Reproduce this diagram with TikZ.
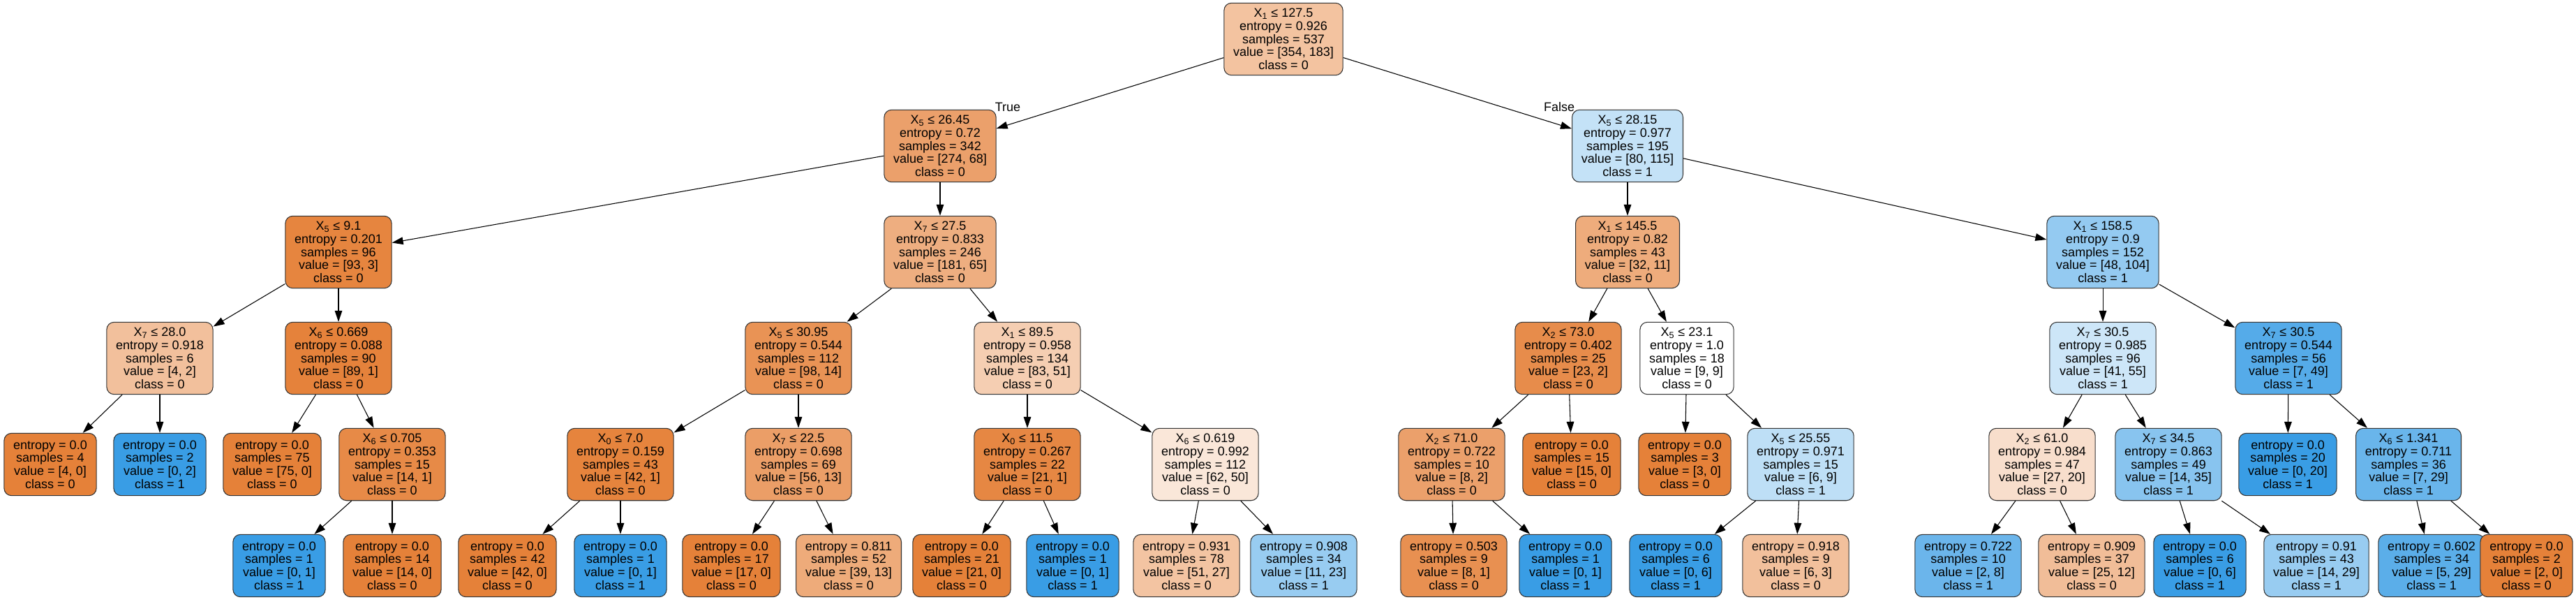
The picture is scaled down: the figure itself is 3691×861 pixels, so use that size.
\documentclass[tikz,border=0pt]{standalone}
\usepackage{fontspec}
\setmainfont{Liberation Sans}
\usetikzlibrary{arrows.meta}
\definecolor{cls0}{HTML}{E58139}
\definecolor{cls1}{HTML}{399DE5}
\begin{document}
  \begin{tikzpicture}[x=0.75pt, y=-0.75pt,
      tnode/.style={draw=black!80, line width=0.8pt, rounded corners=8pt,
        align=center, inner xsep=10pt, inner ysep=6pt,
        font=\fontsize{13.5}{14}\selectfont},
      leaf/.style={tnode, minimum height=67pt},
      link/.style={-{Triangle[length=12pt, width=8pt]}, line width=0.8pt},
      tag/.style={font=\fontsize{13.5}{14}\selectfont, inner sep=0pt}]
    \useasboundingbox (0,0) rectangle (3691,861);
    \node[tnode, fill=cls0!48] (n0) at (1839,56)
      {X\textsubscript{1} ≤ 127.5\\entropy = 0.926\\samples = 537\\value = [354, 183]\\class = 0};
    \node[tnode, fill=cls0!75] (n1) at (1347,209)
      {X\textsubscript{5} ≤ 26.45\\entropy = 0.72\\samples = 342\\value = [274, 68]\\class = 0};
    \node[tnode, fill=cls1!30] (n26) at (2332,209)
      {X\textsubscript{5} ≤ 28.15\\entropy = 0.977\\samples = 195\\value = [80, 115]\\class = 1};
    \node[tnode, fill=cls0!97] (n2) at (485,361)
      {X\textsubscript{5} ≤ 9.1\\entropy = 0.201\\samples = 96\\value = [93, 3]\\class = 0};
    \node[tnode, fill=cls0!64] (n11) at (1347,361)
      {X\textsubscript{7} ≤ 27.5\\entropy = 0.833\\samples = 246\\value = [181, 65]\\class = 0};
    \node[tnode, fill=cls0!66] (n27) at (2332,361)
      {X\textsubscript{1} ≤ 145.5\\entropy = 0.82\\samples = 43\\value = [32, 11]\\class = 0};
    \node[tnode, fill=cls1!54] (n38) at (3013,361)
      {X\textsubscript{1} ≤ 158.5\\entropy = 0.9\\samples = 152\\value = [48, 104]\\class = 1};
    \node[tnode, fill=cls0!50] (n3) at (229,513)
      {X\textsubscript{7} ≤ 28.0\\entropy = 0.918\\samples = 6\\value = [4, 2]\\class = 0};
    \node[tnode, fill=cls0!99] (n6) at (485,513)
      {X\textsubscript{6} ≤ 0.669\\entropy = 0.088\\samples = 90\\value = [89, 1]\\class = 0};
    \node[tnode, fill=cls0!86] (n12) at (1144,513)
      {X\textsubscript{5} ≤ 30.95\\entropy = 0.544\\samples = 112\\value = [98, 14]\\class = 0};
    \node[tnode, fill=cls0!39] (n19) at (1472,513)
      {X\textsubscript{1} ≤ 89.5\\entropy = 0.958\\samples = 134\\value = [83, 51]\\class = 0};
    \node[tnode, fill=cls0!91] (n28) at (2247,513)
      {X\textsubscript{2} ≤ 73.0\\entropy = 0.402\\samples = 25\\value = [23, 2]\\class = 0};
    \node[tnode, fill=white] (n33) at (2417,513)
      {X\textsubscript{5} ≤ 23.1\\entropy = 1.0\\samples = 18\\value = [9, 9]\\class = 0};
    \node[tnode, fill=cls1!25] (n39) at (3013,513)
      {X\textsubscript{7} ≤ 30.5\\entropy = 0.985\\samples = 96\\value = [41, 55]\\class = 1};
    \node[tnode, fill=cls1!86] (n46) at (3279,513)
      {X\textsubscript{7} ≤ 30.5\\entropy = 0.544\\samples = 56\\value = [7, 49]\\class = 1};
    \node[leaf, fill=cls0] (n4) at (72,665)
      {entropy = 0.0\\samples = 4\\value = [4, 0]\\class = 0};
    \node[leaf, fill=cls1] (n5) at (229,665)
      {entropy = 0.0\\samples = 2\\value = [0, 2]\\class = 1};
    \node[leaf, fill=cls0] (n7) at (390,665)
      {entropy = 0.0\\samples = 75\\value = [75, 0]\\class = 0};
    \node[tnode, fill=cls0!93] (n8) at (562,665)
      {X\textsubscript{6} ≤ 0.705\\entropy = 0.353\\samples = 15\\value = [14, 1]\\class = 0};
    \node[tnode, fill=cls0!98] (n13) at (889,665)
      {X\textsubscript{0} ≤ 7.0\\entropy = 0.159\\samples = 43\\value = [42, 1]\\class = 0};
    \node[tnode, fill=cls0!77] (n16) at (1144,665)
      {X\textsubscript{7} ≤ 22.5\\entropy = 0.698\\samples = 69\\value = [56, 13]\\class = 0};
    \node[tnode, fill=cls0!95] (n20) at (1472,665)
      {X\textsubscript{0} ≤ 11.5\\entropy = 0.267\\samples = 22\\value = [21, 1]\\class = 0};
    \node[tnode, fill=cls0!19] (n23) at (1727,665)
      {X\textsubscript{6} ≤ 0.619\\entropy = 0.992\\samples = 112\\value = [62, 50]\\class = 0};
    \node[tnode, fill=cls0!75] (n29) at (2080,665)
      {X\textsubscript{2} ≤ 71.0\\entropy = 0.722\\samples = 10\\value = [8, 2]\\class = 0};
    \node[leaf, fill=cls0] (n32) at (2252,665)
      {entropy = 0.0\\samples = 15\\value = [15, 0]\\class = 0};
    \node[leaf, fill=cls0] (n34) at (2414,665)
      {entropy = 0.0\\samples = 3\\value = [3, 0]\\class = 0};
    \node[tnode, fill=cls1!33] (n35) at (2580,665)
      {X\textsubscript{5} ≤ 25.55\\entropy = 0.971\\samples = 15\\value = [6, 9]\\class = 1};
    \node[tnode, fill=cls0!26] (n40) at (2926,665)
      {X\textsubscript{2} ≤ 61.0\\entropy = 0.984\\samples = 47\\value = [27, 20]\\class = 0};
    \node[tnode, fill=cls1!60] (n43) at (3107,665)
      {X\textsubscript{7} ≤ 34.5\\entropy = 0.863\\samples = 49\\value = [14, 35]\\class = 1};
    \node[leaf, fill=cls1] (n47) at (3278,665)
      {entropy = 0.0\\samples = 20\\value = [0, 20]\\class = 1};
    \node[tnode, fill=cls1!76] (n48) at (3451,665)
      {X\textsubscript{6} ≤ 1.341\\entropy = 0.711\\samples = 36\\value = [7, 29]\\class = 1};
    \node[leaf, fill=cls1] (n9) at (400,810)
      {entropy = 0.0\\samples = 1\\value = [0, 1]\\class = 1};
    \node[leaf, fill=cls0] (n10) at (562,810)
      {entropy = 0.0\\samples = 14\\value = [14, 0]\\class = 0};
    \node[leaf, fill=cls0] (n14) at (727,810)
      {entropy = 0.0\\samples = 42\\value = [42, 0]\\class = 0};
    \node[leaf, fill=cls1] (n15) at (889,810)
      {entropy = 0.0\\samples = 1\\value = [0, 1]\\class = 1};
    \node[leaf, fill=cls0] (n17) at (1048,810)
      {entropy = 0.0\\samples = 17\\value = [17, 0]\\class = 0};
    \node[leaf, fill=cls0!67] (n18) at (1216,810)
      {entropy = 0.811\\samples = 52\\value = [39, 13]\\class = 0};
    \node[leaf, fill=cls0] (n21) at (1378,810)
      {entropy = 0.0\\samples = 21\\value = [21, 0]\\class = 0};
    \node[leaf, fill=cls1] (n22) at (1537,810)
      {entropy = 0.0\\samples = 1\\value = [0, 1]\\class = 1};
    \node[leaf, fill=cls0!47] (n24) at (1700,810)
      {entropy = 0.931\\samples = 78\\value = [51, 27]\\class = 0};
    \node[leaf, fill=cls1!52] (n25) at (1868,810)
      {entropy = 0.908\\samples = 34\\value = [11, 23]\\class = 1};
    \node[leaf, fill=cls0!88] (n30) at (2083,810)
      {entropy = 0.503\\samples = 9\\value = [8, 1]\\class = 0};
    \node[leaf, fill=cls1] (n31) at (2243,810)
      {entropy = 0.0\\samples = 1\\value = [0, 1]\\class = 1};
    \node[leaf, fill=cls1] (n36) at (2401,810)
      {entropy = 0.0\\samples = 6\\value = [0, 6]\\class = 1};
    \node[leaf, fill=cls0!50] (n37) at (2573,810)
      {entropy = 0.918\\samples = 9\\value = [6, 3]\\class = 0};
    \node[leaf, fill=cls1!75] (n41) at (2820,810)
      {entropy = 0.722\\samples = 10\\value = [2, 8]\\class = 1};
    \node[leaf, fill=cls0!52] (n42) at (2997,810)
      {entropy = 0.909\\samples = 37\\value = [25, 12]\\class = 0};
    \node[leaf, fill=cls1] (n44) at (3152,810)
      {entropy = 0.0\\samples = 6\\value = [0, 6]\\class = 1};
    \node[leaf, fill=cls1!52] (n45) at (3319,810)
      {entropy = 0.91\\samples = 43\\value = [14, 29]\\class = 1};
    \node[leaf, fill=cls1!83] (n49) at (3484,810)
      {entropy = 0.602\\samples = 34\\value = [5, 29]\\class = 1};
    \node[leaf, fill=cls0] (n50) at (3620,810)
      {entropy = 0.0\\samples = 2\\value = [2, 0]\\class = 0};
    \node[tag] (ltrue) at (1444,153) {True};
    \node[tag] (lfalse) at (2234,153) {False};
    \draw[link] (n0) -- (n1);
    \draw[link] (n0) -- (n26);
    \draw[link] (n1) -- (n2);
    \draw[link] (n1) -- (n11);
    \draw[link] (n2) -- (n3);
    \draw[link] (n2) -- (n6);
    \draw[link] (n3) -- (n4);
    \draw[link] (n3) -- (n5);
    \draw[link] (n6) -- (n7);
    \draw[link] (n6) -- (n8);
    \draw[link] (n8) -- (n9);
    \draw[link] (n8) -- (n10);
    \draw[link] (n11) -- (n12);
    \draw[link] (n11) -- (n19);
    \draw[link] (n12) -- (n13);
    \draw[link] (n12) -- (n16);
    \draw[link] (n13) -- (n14);
    \draw[link] (n13) -- (n15);
    \draw[link] (n16) -- (n17);
    \draw[link] (n16) -- (n18);
    \draw[link] (n19) -- (n20);
    \draw[link] (n19) -- (n23);
    \draw[link] (n20) -- (n21);
    \draw[link] (n20) -- (n22);
    \draw[link] (n23) -- (n24);
    \draw[link] (n23) -- (n25);
    \draw[link] (n26) -- (n27);
    \draw[link] (n26) -- (n38);
    \draw[link] (n27) -- (n28);
    \draw[link] (n27) -- (n33);
    \draw[link] (n28) -- (n29);
    \draw[link] (n28) -- (n32);
    \draw[link] (n29) -- (n30);
    \draw[link] (n29) -- (n31);
    \draw[link] (n33) -- (n34);
    \draw[link] (n33) -- (n35);
    \draw[link] (n35) -- (n36);
    \draw[link] (n35) -- (n37);
    \draw[link] (n38) -- (n39);
    \draw[link] (n38) -- (n46);
    \draw[link] (n39) -- (n40);
    \draw[link] (n39) -- (n43);
    \draw[link] (n40) -- (n41);
    \draw[link] (n40) -- (n42);
    \draw[link] (n43) -- (n44);
    \draw[link] (n43) -- (n45);
    \draw[link] (n46) -- (n47);
    \draw[link] (n46) -- (n48);
    \draw[link] (n48) -- (n49);
    \draw[link] (n48) -- (n50);
  \end{tikzpicture}
\end{document}
